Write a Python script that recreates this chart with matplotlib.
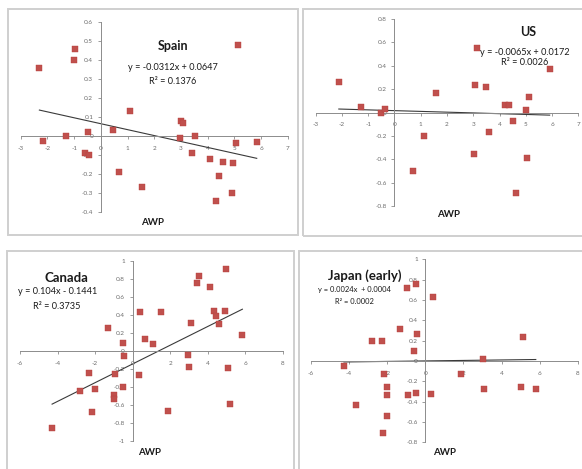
import matplotlib
matplotlib.use("Agg")
import matplotlib.pyplot as plt
import matplotlib.patches as patches
import numpy as np

W, H = 582, 469
plt.rcParams['font.family'] = ['Lato', 'DejaVu Sans']

# ---------------- data ----------------
spain_x = [-2.30, -2.15, -1.31, -0.98, -0.99, -0.47, -0.59, -0.43, 0.45, 1.08, 0.67, 1.53,
           3.02, 3.09, 2.96, 3.54, 3.43, 4.09, 4.59, 4.97, 4.44, 4.30, 4.91, 5.15, 5.07, 5.84]
spain_y = [0.358, -0.025, 0.002, 0.46, 0.40, 0.021, -0.088, -0.098, 0.030, 0.133, -0.19, -0.27,
           0.081, 0.067, -0.01, -0.002, -0.091, -0.121, -0.139, -0.14, -0.209, -0.34, -0.298,
           0.477, -0.037, -0.03]

us_x = [-2.12, -1.27, -0.53, -0.38, 1.57, 1.14, 0.72, 3.15, 3.07, 3.49, 3.02, 3.59,
        4.19, 4.35, 4.50, 4.99, 5.13, 5.03, 4.64, 5.91]
us_y = [0.259, 0.046, 0.0, 0.028, 0.171, -0.20, -0.50, 0.553, 0.234, 0.219, -0.353, -0.168,
        0.063, 0.063, -0.068, 0.026, 0.137, -0.387, -0.687, 0.376]

canada_x = [-4.29, -2.80, -2.32, -2.02, -2.16, -1.33, -0.93, -1.01, -1.01, -0.49, -0.49, -0.44,
            0.40, 0.66, 0.33, 1.07, 1.52, 1.87, 2.95, 3.03, 3.11, 3.42, 3.54, 4.11, 4.32,
            4.46, 4.59, 4.93, 4.98, 5.09, 5.17, 5.85]
canada_y = [-0.852, -0.448, -0.241, -0.422, -0.674, 0.256, -0.256, -0.489, -0.537, -0.40, 0.093,
            -0.056, 0.433, 0.137, -0.270, 0.081, 0.433, -0.663, -0.048, -0.181, 0.315, 0.752,
            0.833, 0.707, 0.441, 0.385, 0.296, 0.441, 0.907, -0.185, -0.589, 0.181]

japan_x = [-4.27, -3.63, -2.78, -2.29, -2.17, -2.24, -2.03, -2.00, -2.00, -1.31, -0.98, -0.47,
           -0.44, -0.61, -0.93, -0.49, 0.42, 0.32, 1.86, 3.01, 3.08, 5.13, 5.03, 5.80]
japan_y = [-0.046, -0.433, 0.193, 0.193, -0.125, -0.705, -0.538, -0.252, -0.338, 0.318, 0.718,
           0.761, 0.269, 0.095, -0.334, -0.315, 0.630, -0.325, -0.125, 0.023, -0.279, 0.233,
           -0.252, -0.279]

titles = ["Spain", "US", "Canada", "Japan (early)"]
slopes = [-0.0312, -0.0065, 0.104, 0.0024]
intercepts = [0.0647, 0.0172, -0.1441, 0.0004]
eq_labels = ["y = -0.0312x + 0.0647", "y = -0.0065x + 0.0172",
             "y = 0.104x - 0.1441", "y = 0.0024x  + 0.0004"]
r2_labels = ["R\u00b2 = 0.1376", "R\u00b2 = 0.0026", "R\u00b2 = 0.3735", "R\u00b2 = 0.0002"]
xlims = [(-3, 7), (-3, 7), (-6, 8), (-6, 8)]
ylims = [(-0.4, 0.6), (-0.8, 0.8), (-1, 1), (-0.8, 1)]
xticks = [list(range(-3, 8)), list(range(-3, 8)), list(range(-6, 9, 2)), list(range(-6, 9, 2))]
yticks = [[-0.4, -0.3, -0.2, -0.1, 0, 0.1, 0.2, 0.3, 0.4, 0.5, 0.6],
          [-0.8, -0.6, -0.4, -0.2, 0, 0.2, 0.4, 0.6, 0.8],
          [-1, -0.8, -0.6, -0.4, -0.2, 0, 0.2, 0.4, 0.6, 0.8, 1],
          [-0.8, -0.6, -0.4, -0.2, 0, 0.2, 0.4, 0.6, 0.8, 1]]
xs = [spain_x, us_x, canada_x, japan_x]
ys = [spain_y, us_y, canada_y, japan_y]

# ---------------- layout (pixels) ----------------
axes_px = [(20.7, 287.7, 22, 212), (315.7, 578.3, 19, 206.3),
           (20, 282.7, 261, 441), (311, 577.7, 259.3, 442.3)]
boxes_px = [(8, 298, 9, 235), (303, 590, 9, 236), (7, 294, 251, 480), (299, 590, 251, 480)]
title_px = [(172.7, 46), (527.7, 31.7), (66, 278.3), (365, 275.7)]
eq_px = [(172.7, 67.7), (525, 52.3), (57.3, 291.7), (354.3, 289.3)]
r2_px = [(172.7, 81.7), (525, 62.3), (56.7, 306.7), (354.3, 301)]
awp_px = [(153, 222.7), (449, 214.3), (150, 452.3), (444.3, 452.3)]
eq_size = [6.6, 6.6, 6.6, 5.4]
title_size = [9, 9, 9.5, 9.5]

fig = plt.figure(figsize=(W / 100, H / 100), dpi=100)
fig.patch.set_facecolor('white')

def fx(x):
    return x / W

def fy(y):
    return 1 - y / H

for (x0, x1, y0, y1) in boxes_px:
    fig.patches.append(patches.Rectangle((fx(x0), fy(y1)), fx(x1) - fx(x0), fy(y0) - fy(y1),
                                         transform=fig.transFigure, fill=False,
                                         edgecolor='#cfcfcf', linewidth=1.4))

def fmt(v):
    if abs(v) < 1e-9:
        return "0"
    s = ("%g" % v)
    return s

axis_col = '#8c8c8c'
for i in range(4):
    x0, x1, ytop, ybot = axes_px[i]
    ax = fig.add_axes([fx(x0), fy(ybot), fx(x1) - fx(x0), fy(ytop) - fy(ybot)])
    ax.set_facecolor('none')
    ax.set_xlim(*xlims[i])
    ax.set_ylim(*ylims[i])
    for s in ['top', 'right']:
        ax.spines[s].set_visible(False)
    ax.spines['left'].set_position(('data', 0))
    ax.spines['bottom'].set_position(('data', 0))
    for s in ['left', 'bottom']:
        ax.spines[s].set_color(axis_col)
        ax.spines[s].set_linewidth(0.7)
    ax.set_xticks(xticks[i])
    ax.set_yticks(yticks[i])
    ax.set_xticklabels([fmt(v) for v in xticks[i]])
    ax.set_yticklabels([fmt(v) for v in yticks[i]])
    ax.tick_params(axis='both', colors=axis_col, labelcolor='#6b6b6b', labelsize=4.6,
                   length=2, width=0.6, direction='out')
    ax.tick_params(axis='x', pad=5)
    ax.tick_params(axis='y', pad=3.5)
    ax.plot(xs[i], ys[i], linestyle='none', marker='s', markersize=4.6,
            color='#C0504D', markeredgecolor='#B8403C', markeredgewidth=0.3, zorder=3)
    lx = np.array([min(xs[i]), max(xs[i])])
    ax.plot(lx, slopes[i] * lx + intercepts[i], color='#3a3a3a', linewidth=0.8, zorder=2)

    fig.text(fx(title_px[i][0]), fy(title_px[i][1]), titles[i], ha='center', va='center',
             fontsize=title_size[i], fontweight='bold', color='#1a1a1a')
    fig.text(fx(eq_px[i][0]), fy(eq_px[i][1]), eq_labels[i], ha='center', va='center',
             fontsize=eq_size[i], color='#1a1a1a')
    fig.text(fx(r2_px[i][0]), fy(r2_px[i][1]), r2_labels[i], ha='center', va='center',
             fontsize=eq_size[i], color='#1a1a1a')
    fig.text(fx(awp_px[i][0]), fy(awp_px[i][1]), "AWP", ha='center', va='center',
             fontsize=7, fontweight='bold', color='#1a1a1a')

fig.savefig("out.png", dpi=100, facecolor='white')
